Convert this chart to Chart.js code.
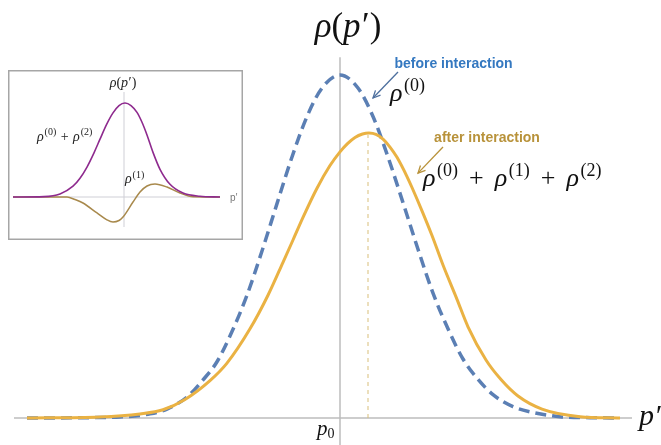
<!DOCTYPE html>
<html><head><meta charset="utf-8">
<script src="https://cdn.jsdelivr.net/npm/chart.js@4"></script>
<style>
html,body{margin:0;padding:0;background:#fff;}
#wrap{position:relative;width:661px;height:445px;overflow:hidden;}
#main{position:absolute;left:0;top:0;}
#inset{position:absolute;left:8px;top:70px;}
</style></head><body>
<div id="wrap">
<canvas id="main" width="661" height="445"></canvas>
<canvas id="inset" width="235" height="170"></canvas>
</div>
<script>
// ---- main chart data (p' - p0 in arbitrary units, rho normalised so that rho0 peak = 100)
const beforeX = [-6.26,-5.00,-4.40,-3.80,-3.46,-3.06,-2.74,-2.46,-2.16,-1.86,-1.56,-1.26,-0.96,-0.66,-0.36,0,0.36,0.66,0.96,1.26,1.56,1.86,2.16,2.46,2.74,3.06,3.46,3.80,4.40,5.00,5.60];
const beforeY = [0,0.1,0.3,1.2,2.6,6.1,11.1,16.4,25.2,35.8,48.7,62.5,76.1,87.9,96.2,100,96.2,87.9,76.1,62.8,49.2,36.4,26.0,17.2,11.6,6.8,3.3,1.8,0.4,0.1,0];
const afterX = [-6.26,-4.80,-4.00,-3.54,-3.10,-2.60,-2.26,-1.80,-1.44,-1.14,-0.94,-0.74,-0.46,-0.20,0,0.15,0.30,0.45,0.58,0.72,0.86,1.00,1.14,1.34,1.44,1.64,1.84,2.06,2.34,2.56,2.92,3.22,3.56,4.04,4.80,5.60];
const afterY = [0,0.3,1.2,2.4,5.4,10.9,16.0,26.0,35.8,45.4,51.9,58.5,67.0,73.6,77.6,80.0,81.8,82.8,83.1,82.7,81.3,79.0,76.0,70.4,67.2,60.4,53.2,44.6,34.6,26.6,16.9,11.2,6.4,2.6,0.4,0];
const peakAfterX = 0.56;       // dashed marker at the shifted peak
const peakAfterY = 82.5;
const axisXRange = [-6.52, 5.84];
const axisYRange = [-7.87, 105.2];

// ---- inset data
const insetX02 = [-4.44,-3.20,-2.56,-2.04,-1.76,-1.48,-1.20,-0.96,-0.70,-0.44,-0.20,0.04,0.28,0.52,0.72,0.92,1.16,1.44,1.84,2.36,3.04,3.84];
const insetY02 = [0,0.4,3.2,11.5,20.0,31.9,47.0,61.5,77.0,89.5,97.3,100,97.3,90.0,79.5,66.0,47.5,29.5,13.5,4.2,0.8,0];
const insetX1 = [-4.44,-2.28,-1.96,-1.64,-1.08,-0.70,-0.44,-0.20,-0.04,0.36,0.64,0.92,1.24,1.72,2.24,2.76,3.84];
const insetY1 = [0,0,-2.7,-6.4,-17.0,-24.0,-26.6,-25.0,-21.3,-5.3,5.3,11.7,13.8,10.6,4.3,0.3,0];
const insetAxisX = [-4.44, 3.84];
const insetAxisY = [-31.9, 111.7];

const zip = (xs, ys) => xs.map((x, i) => ({x, y: ys[i]}));
const SERIF = '"Liberation Serif", "DejaVu Serif", serif';
const SANS = '"Liberation Sans", Arial, sans-serif';

function drawRhoSum(ctx, x, y, sups, size, color, plusGap) {
  ctx.save();
  ctx.fillStyle = color;
  ctx.textBaseline = 'alphabetic';
  ctx.textAlign = 'left';
  let cx = x;
  sups.forEach((s, i) => {
    if (i > 0) {
      ctx.font = `${size}px ${SERIF}`;
      cx += plusGap;
      ctx.fillText('+', cx, y);
      cx += ctx.measureText('+').width + plusGap;
    }
    ctx.font = `italic ${size}px ${SERIF}`;
    ctx.fillText('ρ', cx, y);
    cx += ctx.measureText('ρ').width + size * 0.06;
    ctx.font = `${Math.round(size * 0.68)}px ${SERIF}`;
    const t = '(' + s + ')';
    ctx.fillText(t, cx, y - size * 0.4);
    cx += ctx.measureText(t).width;
  });
  ctx.restore();
}

function drawRhoP(ctx, cxCenter, y, size, color) {
  ctx.save();
  ctx.fillStyle = color;
  ctx.textBaseline = 'alphabetic';
  const parts = [['ρ', true], ['(', false], ['p', true], ['′', false], [')', false]];
  let w = 0;
  parts.forEach(([t, it]) => { ctx.font = `${it ? 'italic ' : ''}${size}px ${SERIF}`; w += ctx.measureText(t).width + (t === 'p' ? size * 0.04 : 0); });
  let cx = cxCenter - w / 2;
  parts.forEach(([t, it]) => {
    ctx.font = `${it ? 'italic ' : ''}${size}px ${SERIF}`;
    ctx.fillText(t, cx, y);
    cx += ctx.measureText(t).width + (t === 'p' ? size * 0.04 : 0);
  });
  ctx.restore();
}

function arrow(ctx, x1, y1, x2, y2, color) {
  ctx.save();
  ctx.strokeStyle = color; ctx.fillStyle = color; ctx.lineWidth = 1.3;
  ctx.beginPath(); ctx.moveTo(x1, y1); ctx.lineTo(x2, y2); ctx.stroke();
  const a = Math.atan2(y2 - y1, x2 - x1), L = 8, s = 0.45;
  ctx.beginPath();
  ctx.moveTo(x2 - L * Math.cos(a - s), y2 - L * Math.sin(a - s));
  ctx.lineTo(x2, y2);
  ctx.lineTo(x2 - L * Math.cos(a + s), y2 - L * Math.sin(a + s));
  ctx.stroke();
  ctx.restore();
}

const mainDecor = {
  id: 'mainDecor',
  beforeDraw(chart) {
    const c = chart.ctx; c.save(); c.fillStyle = '#fff'; c.fillRect(0, 0, chart.width, chart.height); c.restore();
  },
  beforeDatasetsDraw(chart) {
    const {ctx, scales: {x, y}} = chart;
    ctx.save();
    ctx.strokeStyle = '#bdbdbd'; ctx.lineWidth = 1.5;
    ctx.beginPath();
    ctx.moveTo(x.getPixelForValue(axisXRange[0]), y.getPixelForValue(0));
    ctx.lineTo(x.getPixelForValue(axisXRange[1]), y.getPixelForValue(0));
    ctx.moveTo(x.getPixelForValue(0), y.getPixelForValue(axisYRange[1]));
    ctx.lineTo(x.getPixelForValue(0), y.getPixelForValue(axisYRange[0]));
    ctx.stroke();
    ctx.strokeStyle = '#d9bf7a'; ctx.lineWidth = 1; ctx.setLineDash([4, 4]);
    ctx.beginPath();
    ctx.moveTo(x.getPixelForValue(peakAfterX), y.getPixelForValue(0));
    ctx.lineTo(x.getPixelForValue(peakAfterX), y.getPixelForValue(peakAfterY));
    ctx.stroke();
    ctx.restore();
  },
  afterDraw(chart) {
    const {ctx, scales: {x, y}} = chart;
    const X = v => x.getPixelForValue(v), Y = v => y.getPixelForValue(v);
    drawRhoP(ctx, X(0.16), Y(111.1), 35, '#111');
    ctx.save();
    ctx.font = `bold 14px ${SANS}`; ctx.textAlign = 'center'; ctx.textBaseline = 'middle';
    ctx.fillStyle = '#3478c0';
    ctx.fillText('before interaction', X(2.27), Y(103.2));
    ctx.fillStyle = '#b8923a';
    ctx.fillText('after interaction', X(2.94), Y(81.6));
    ctx.restore();
    arrow(ctx, X(1.16), Y(100.9), X(0.66), Y(93.3), '#4d6f9e');
    arrow(ctx, X(2.06), Y(79.0), X(1.56), Y(71.4), '#b8923a');
    drawRhoSum(ctx, X(1.0), Y(92.4), ['0'], 26, '#111', 0);
    drawRhoSum(ctx, X(1.66), Y(67.6), ['0', '1', '2'], 26, '#111', 11);
    ctx.save();
    ctx.fillStyle = '#111'; ctx.textBaseline = 'alphabetic';
    ctx.font = `italic 30px ${SERIF}`;
    ctx.fillText('p′', X(5.98), Y(-2.04));
    ctx.font = `italic 21px ${SERIF}`;
    ctx.fillText('p', X(-0.46), Y(-4.96));
    const pw = ctx.measureText('p').width;
    ctx.font = `14px ${SERIF}`;
    ctx.fillText('0', X(-0.46) + pw, Y(-4.96) + 3);
    ctx.restore();
  }
};

new Chart(document.getElementById('main'), {
  type: 'line',
  data: {
    datasets: [
      { label: 'after interaction', data: zip(afterX, afterY), borderColor: '#eab243', borderWidth: 3, pointRadius: 0, cubicInterpolationMode: 'monotone', fill: false, order: 0 },
      { label: 'before interaction', data: zip(beforeX, beforeY), borderColor: '#5b7fb4', borderWidth: 3.5, borderDash: [11, 6], pointRadius: 0, cubicInterpolationMode: 'monotone', fill: false, order: 1 }
    ]
  },
  options: {
    responsive: false, animation: false, devicePixelRatio: 1,
    layout: { padding: 0 },
    plugins: { legend: { display: false }, tooltip: { enabled: false } },
    scales: {
      x: { type: 'linear', min: -6.8, max: 6.42, display: false },
      y: { type: 'linear', min: -7.87, max: 121.87, display: false }
    }
  },
  plugins: [mainDecor]
});

const insetDecor = {
  id: 'insetDecor',
  beforeDraw(chart) {
    const c = chart.ctx; c.save(); c.fillStyle = '#fff'; c.fillRect(0, 0, chart.width, chart.height); c.restore();
  },
  beforeDatasetsDraw(chart) {
    const {ctx, scales: {x, y}} = chart;
    ctx.save();
    ctx.strokeStyle = '#cfcfd6'; ctx.lineWidth = 1;
    ctx.beginPath();
    ctx.moveTo(x.getPixelForValue(insetAxisX[0]), y.getPixelForValue(0));
    ctx.lineTo(x.getPixelForValue(insetAxisX[1]), y.getPixelForValue(0));
    ctx.moveTo(x.getPixelForValue(0), y.getPixelForValue(insetAxisY[1]));
    ctx.lineTo(x.getPixelForValue(0), y.getPixelForValue(insetAxisY[0]));
    ctx.stroke();
    ctx.restore();
  },
  afterDraw(chart) {
    const {ctx, scales: {x, y}} = chart;
    const X = v => x.getPixelForValue(v), Y = v => y.getPixelForValue(v);
    ctx.save();
    ctx.strokeStyle = '#a6a6a6'; ctx.lineWidth = 1.5;
    ctx.strokeRect(0.75, 0.75, chart.width - 1.5, chart.height - 1.5);
    ctx.restore();
    drawRhoP(ctx, X(-0.04), Y(117), 14, '#222');
    drawRhoSum(ctx, X(-3.48), Y(59.6), ['0', '2'], 14, '#222', 4.5);
    drawRhoSum(ctx, X(0.04), Y(14.5), ['1'], 14, '#222', 0);
    ctx.save();
    ctx.fillStyle = '#777'; ctx.font = `10px ${SANS}`; ctx.textBaseline = 'middle';
    ctx.fillText('p′', X(4.24), Y(-1));
    ctx.restore();
  }
};

new Chart(document.getElementById('inset'), {
  type: 'line',
  data: {
    datasets: [
      { label: 'ρ(0)+ρ(2)', data: zip(insetX02, insetY02), borderColor: '#8e2a8e', borderWidth: 1.6, pointRadius: 0, cubicInterpolationMode: 'monotone', fill: false },
      { label: 'ρ(1)', data: zip(insetX1, insetY1), borderColor: '#a8894c', borderWidth: 1.5, pointRadius: 0, cubicInterpolationMode: 'monotone', fill: false }
    ]
  },
  options: {
    responsive: false, animation: false, devicePixelRatio: 1,
    layout: { padding: 0 },
    plugins: { legend: { display: false }, tooltip: { enabled: false } },
    scales: {
      x: { type: 'linear', min: -4.64, max: 4.76, display: false },
      y: { type: 'linear', min: -45.74, max: 135.1, display: false }
    }
  },
  plugins: [insetDecor]
});
</script>
</body></html>
